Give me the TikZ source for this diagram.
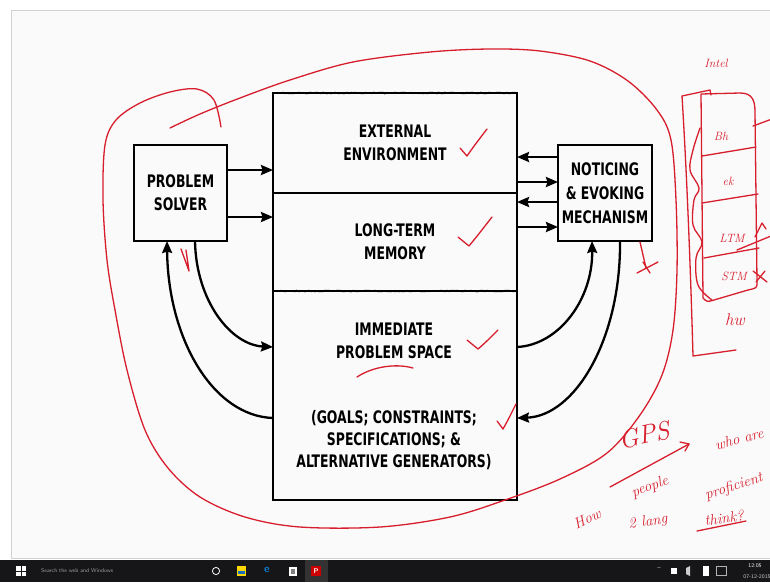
\documentclass[tikz,border=0pt]{standalone}
\usepackage{fontspec}
\usepackage{graphicx}
\usetikzlibrary{arrows.meta,decorations.pathmorphing,calc}
\newfontfamily\diagfont{DejaVu Sans Condensed Bold}
\newcommand\talltxt[1]{\scalebox{1}[1.25]{#1}}
\definecolor{handred}{RGB}{215,30,45}
\definecolor{taskbarc}{RGB}{22,22,24}
\tikzset{
  lbl/.style={font=\diagfont\fontsize{13.8}{23}\selectfont, align=center, inner sep=0pt},
  boxx/.style={draw, line width=1.1pt, inner sep=0pt, outer sep=0pt},
  arr/.style={line width=2.3pt, -{Stealth[length=12pt,width=10pt,inset=1.5pt]}},
  hand/.style={draw=handred, line width=1.3pt, line cap=round, line join=round},
  htext/.style={text=handred, font=\itshape\fontsize{15}{16}\selectfont, inner sep=0pt},
  hsmall/.style={text=handred, font=\itshape\fontsize{12}{13}\selectfont, inner sep=0pt},
  jag/.style={line width=1.6pt, decorate, decoration={random steps, segment length=2pt, amplitude=0.45pt}},
  tbtext/.style={text=gray!75, font=\sffamily\fontsize{5.5}{6}\selectfont, inner sep=0pt},
}
\begin{document}
\begin{tikzpicture}[x=1pt,y=-1pt]
\useasboundingbox (0,0) rectangle (770,582);
\fill[white] (0,0) rectangle (770,582);
% slide area
\fill[white!98!black] (11,10) rectangle (770,558);
\draw[gray!35, line width=0.6pt] (770,10) -- (11,10) -- (11,558) -- (770,558);

% ---------- boxes ----------
\node[boxx, lbl, minimum width=93pt, minimum height=96pt] (ps) at (180.5,193) {\talltxt{PROBLEM}\\\talltxt{SOLVER}};
\node[boxx, lbl, minimum width=244pt, minimum height=100pt] (ee) at (395,143) {\talltxt{EXTERNAL}\\\talltxt{ENVIRONMENT}};
\node[boxx, lbl, minimum width=244pt, minimum height=98pt] (ltm) at (395,242) {\talltxt{LONG-TERM}\\\talltxt{MEMORY}};
\node[boxx, minimum width=244pt, minimum height=209pt] (ips) at (395,395.5) {};
\node[lbl] (ipst) at (394,341) {\talltxt{IMMEDIATE}\\\talltxt{PROBLEM SPACE}};
\node[lbl, font=\diagfont\fontsize{13.8}{22}\selectfont] (goals) at (394,440) {\talltxt{(GOALS; CONSTRAINTS;}\\\talltxt{SPECIFICATIONS; \&}\\\talltxt{ALTERNATIVE GENERATORS)}};
\node[boxx, lbl, font=\diagfont\fontsize{13.8}{24}\selectfont, minimum width=94pt, minimum height=96pt] (nem) at (605,193) {\talltxt{NOTICING}\\\talltxt{\& EVOKING}\\\talltxt{MECHANISM}};
\draw[jag] (ee.north west) -- (ee.north east);
\draw[jag] (ltm.south west) -- (ltm.south east);

% ---------- straight arrows ----------
\coordinate (p1) at ([yshift=-25pt]ps.north east);
\coordinate (p2) at ([yshift=-72pt]ps.north east);
\draw[arr] (p1) -- (p1 -| ee.west);
\draw[arr] (p2) -- (p2 -| ltm.west);
\coordinate (n1) at ([yshift=-12pt]nem.north west);
\coordinate (n2) at ([yshift=-37pt]nem.north west);
\coordinate (n3) at ([yshift=-57pt]nem.north west);
\coordinate (n4) at ([yshift=-82pt]nem.north west);
\draw[arr] (n1) -- (n1 -| ee.east);
\draw[arr] (n2 -| ee.east) -- (n2);
\draw[arr] (n3) -- (n3 -| ltm.east);
\draw[arr] (n4 -| ltm.east) -- (n4);

% ---------- curved arrows ----------
\coordinate (c1) at ([xshift=14.5pt]ps.south);
\coordinate (c2) at ([xshift=-13.5pt]ps.south);
\coordinate (c3) at ([xshift=-13pt]nem.south);
\coordinate (c4) at ([xshift=15pt]nem.south);
\coordinate (i1) at ([yshift=48.5pt]ips.west);
\coordinate (i2) at ([yshift=-22.5pt]ips.west);
\coordinate (i3) at ([yshift=48.5pt]ips.east);
\coordinate (i4) at ([yshift=-22.5pt]ips.east);
\draw[arr] (c1) .. controls ($(c1)+(1,60)$) and ($(i1)+(-42,-2)$) .. (i1);
\draw[arr] (i2) .. controls ($(i2)+(-60,-2)$) and ($(c2)+(1,98)$) .. (c2);
\draw[arr] (i3) .. controls ($(i3)+(42,-2)$) and ($(c3)+(1,58)$) .. (c3);
\draw[arr] (c4) .. controls ($(c4)+(1,98)$) and ($(i4)+(58,-2)$) .. (i4);

% ---------- red annotations ----------
\draw[hand] plot[smooth, tension=0.55] coordinates {(221,127) (214,100) (197,89) (170,92) (140,103) (116,120) (105,145) (103,200) (107,260) (115,310) (127,370) (145,430) (168,468) (200,497) (245,517) (300,527) (380,527) (450,517) (505,500) (560,479) (607,453) (640,415) (662,375) (673,330) (677,270) (676,200) (671,140) (657,110) (628,81) (590,61) (540,51) (490,49) (430,52) (353,62) (290,80) (240,98) (200,114) (170,128)};
% check marks
\draw[hand] (460,148) -- (467,156) .. controls (474,146) .. (487,129);
\draw[hand] (458,237) -- (469,246) .. controls (478,235) .. (492,217);
\draw[hand] (467,340) -- (478,349) .. controls (486,342) .. (498,330);
\draw[hand] (497,421) -- (503,429) .. controls (508,420) .. (516,404);
% underline under PROBLEM
\draw[hand] (357,377) .. controls (372,367) and (395,363) .. (413,368);
% mark near problem solver
\draw[hand] (181,249) -- (189,271) -- (186,250);
% mark near noticing box
\draw[hand] (640,242) -- (646,268);
\draw[hand] (637,273) -- (658,262);
\draw[hand] (643,262) -- (650,273);
% GPS and question
\node[htext, font=\itshape\fontsize{26}{28}\selectfont, rotate=12] (gps) at (644,435) {GPS};
\draw[hand] (610,487) -- (689,444);
\draw[hand] (680,442) -- (689,444) -- (685,451);
\node[htext, rotate=25] (qhow) at (587,519) {How};
\node[htext, rotate=20] (qpeople) at (650,487) {people};
\node[htext, rotate=15] (qwho) at (739,439) {who are};
\node[htext, rotate=8] (qlang) at (648,522) {2 lang};
\node[htext, rotate=18] (qprof) at (734,487) {proficient};
\node[htext, rotate=8] (qthink) at (724,518) {think?};
\draw[hand] (697,531) -- (746,521);
% stack at right
\node[hsmall] (intel) at (716,63) {Intel};
\draw[hand] (711,95) -- (710,90) -- (682,96) .. controls (686,160) and (690,250) .. (693,356) -- (736,350);
\draw[hand] (703,298) -- (701,94) -- (740,93) .. controls (752,93) and (755,100) .. (755,112) -- (757,282) .. controls (757,288) .. (748,290) -- (714,300) .. controls (707,302) .. (703,298);
\draw[hand] (702,156) -- (756,147);
\draw[hand] (702,203) -- (758,194);
\draw[hand] (704,258) -- (759,248);
\draw[hand] plot[smooth, tension=0.6] coordinates {(700,128) (693,150) (690,170) (699,188) (694,200) (693,225) (702,242) (696,258) (698,285) (712,300)};
\node[hsmall] (sbh) at (721,136) {Bh};
\node[hsmall] (sek) at (728,181) {ek};
\node[hsmall] (sltm) at (732,238) {LTM};
\node[hsmall] (sstm) at (734,276) {STM};
\node[htext, font=\itshape\fontsize{17}{18}\selectfont] (shw) at (735,320) {hw};
\draw[hand] (753,126) -- (772,119);
\draw[hand] (737,250) -- (771,236);
\draw[hand] (755,237) -- (762,223) -- (766,229);
\draw[hand] (753,271) -- (767,282);
\draw[hand] (756,282) -- (765,271);

% ---------- taskbar ----------
\fill[taskbarc] (0,560) rectangle (770,582);
\fill[white] (16,566) rectangle (20.5,570.5);
\fill[white] (21.5,566) rectangle (26,570.5);
\fill[white] (16,571.5) rectangle (20.5,576);
\fill[white] (21.5,571.5) rectangle (26,576);
\node[tbtext, anchor=west] (search) at (41,571) {Search the web and Windows};
\draw[white, line width=0.8pt] (216,571) circle (3.6pt);
\fill[yellow!75!orange] (237,566) rectangle (246,576);
\fill[cyan!50!blue] (238,571) rectangle (245,574);
\node[text=cyan!60!blue, font=\sffamily\bfseries\fontsize{11}{11}\selectfont, inner sep=0pt] (edge) at (267,570) {e};
\fill[white] (289,567) rectangle (297,576);
\fill[gray] (291,569) rectangle (295,574);
\fill[gray!40!black] (305,560) rectangle (328,582);
\fill[red!80!black] (311,566) rectangle (321,576);
\node[text=white, font=\sffamily\bfseries\fontsize{7}{7}\selectfont, inner sep=0pt] (ppt) at (316,571) {P};
\node[text=white, font=\sffamily\fontsize{7}{7}\selectfont, inner sep=0pt] (tup) at (659,570) {\textasciicircum};
\fill[white] (671,568) rectangle (677,574);
\fill[white!80!black] (686,568) -- (690,566) -- (690,576) -- (686,574) -- cycle;
\fill[white] (703,566) rectangle (709,576);
\draw[white!70!black, line width=0.6pt] (716,566) rectangle (726,575);
\node[tbtext, text=white] (clock) at (755,566) {12:05};
\node[tbtext, text=white!80!black] (date) at (757,577) {07-12-2015};
\end{tikzpicture}
\end{document}
